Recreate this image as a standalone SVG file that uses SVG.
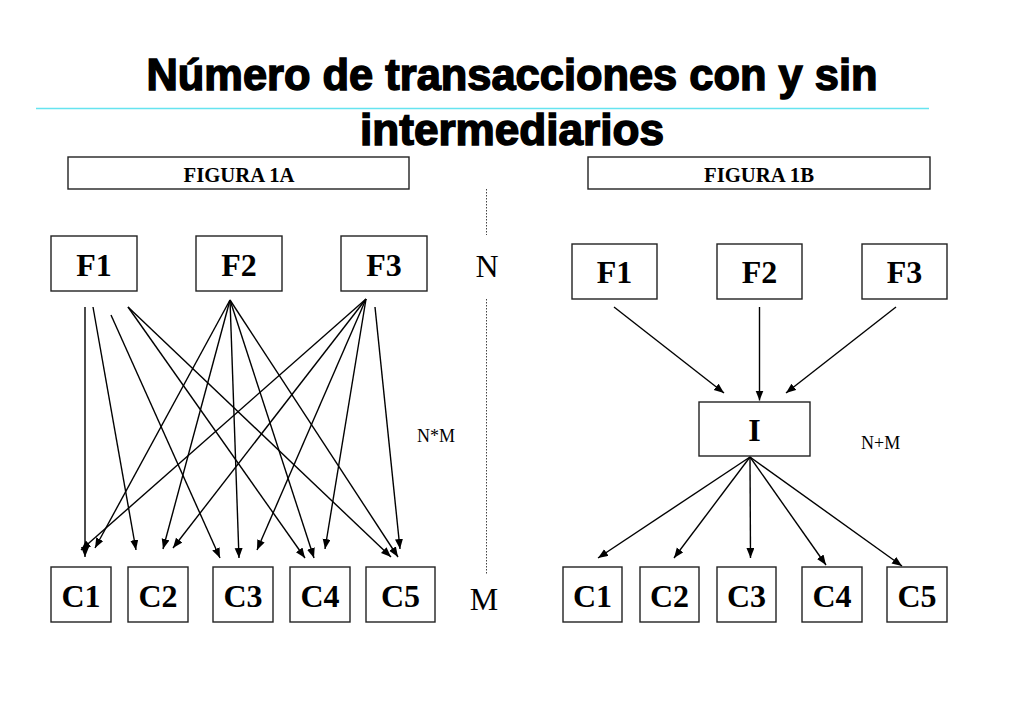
<svg xmlns="http://www.w3.org/2000/svg" width="1024" height="709" viewBox="0 0 1024 709">
<defs>
<marker id="ah" markerUnits="userSpaceOnUse" markerWidth="11" markerHeight="9" refX="10" refY="4" orient="auto">
<path d="M0,0 L10,4 L0,8 z" fill="#000"/>
</marker>
<style>
.box{fill:#fff;stroke:#222;stroke-width:1.4}
.lbl{font-family:"Liberation Serif","Times New Roman",serif;font-weight:bold;font-size:32px;text-anchor:middle;fill:#000}
.fig{font-family:"Liberation Serif","Times New Roman",serif;font-weight:bold;font-size:21px;text-anchor:middle;fill:#000}
.sm{font-family:"Liberation Serif","Times New Roman",serif;font-size:18px;fill:#000}
.big{font-family:"Liberation Serif","Times New Roman",serif;font-size:32px;text-anchor:middle;fill:#000}
.title{font-family:"Liberation Sans",Arial,sans-serif;font-weight:bold;font-size:44px;text-anchor:middle;fill:#000;stroke:#000;stroke-width:1.5}
#connectors line{stroke:#000;stroke-width:1.4;marker-end:url(#ah)}
.dot{stroke:#444;stroke-width:1;stroke-dasharray:1.5 1.5}
</style>
</defs>
<rect width="1024" height="709" fill="#fff"/>
<g id="title">
<text class="title" x="512" y="90" textLength="731" lengthAdjust="spacingAndGlyphs">Número de transacciones con y sin</text>
<text class="title" x="512" y="145" textLength="304" lengthAdjust="spacingAndGlyphs">intermediarios</text>
<line x1="36" y1="108.5" x2="929" y2="108.5" stroke="#66e4f0" stroke-width="1.6"/>
</g>
<g id="figura1a"><rect class="box" x="68" y="157" width="341" height="32"/><text class="fig" x="239" y="182" textLength="111" lengthAdjust="spacingAndGlyphs">FIGURA 1A</text></g>
<g id="figura1b"><rect class="box" x="588" y="157" width="342" height="32"/><text class="fig" x="759" y="182" textLength="110" lengthAdjust="spacingAndGlyphs">FIGURA 1B</text></g>
<g id="divider">
<line class="dot" x1="486.5" y1="189" x2="486.5" y2="235"/>
<line class="dot" x1="486.5" y1="299" x2="486.5" y2="575"/>
<text class="big" x="487" y="277">N</text>
<text class="big" x="484" y="610">M</text>
<text class="sm" x="417" y="442">N*M</text>
<text class="sm" x="861" y="449">N+M</text>
</g>
<g id="a-F1"><rect class="box" x="51" y="236" width="86" height="55"/><text class="lbl" x="94" y="276">F1</text></g>
<g id="a-F2"><rect class="box" x="196" y="236" width="86" height="55"/><text class="lbl" x="239" y="276">F2</text></g>
<g id="a-F3"><rect class="box" x="341" y="236" width="86" height="55"/><text class="lbl" x="384" y="276">F3</text></g>
<g id="a-C1"><rect class="box" x="51" y="567" width="60" height="55"/><text class="lbl" x="81" y="607">C1</text></g>
<g id="a-C2"><rect class="box" x="128" y="567" width="60" height="55"/><text class="lbl" x="158" y="607">C2</text></g>
<g id="a-C3"><rect class="box" x="213" y="567" width="60" height="55"/><text class="lbl" x="243" y="607">C3</text></g>
<g id="a-C4"><rect class="box" x="290" y="567" width="60" height="55"/><text class="lbl" x="320" y="607">C4</text></g>
<g id="a-C5"><rect class="box" x="366" y="567" width="69" height="55"/><text class="lbl" x="400.5" y="607">C5</text></g>
<g id="b-F1"><rect class="box" x="572" y="244" width="85" height="55"/><text class="lbl" x="614.5" y="283">F1</text></g>
<g id="b-F2"><rect class="box" x="717" y="244" width="85" height="55"/><text class="lbl" x="759.5" y="283">F2</text></g>
<g id="b-F3"><rect class="box" x="862" y="244" width="85" height="55"/><text class="lbl" x="904.5" y="283">F3</text></g>
<g id="b-I"><rect class="box" x="699" y="402" width="111" height="54"/><text class="lbl" x="754.5" y="441">I</text></g>
<g id="b-C1"><rect class="box" x="563" y="567" width="59" height="55"/><text class="lbl" x="592.5" y="607">C1</text></g>
<g id="b-C2"><rect class="box" x="640" y="567" width="59" height="55"/><text class="lbl" x="669.5" y="607">C2</text></g>
<g id="b-C3"><rect class="box" x="717" y="567" width="59" height="55"/><text class="lbl" x="746.5" y="607">C3</text></g>
<g id="b-C4"><rect class="box" x="802" y="567" width="60" height="55"/><text class="lbl" x="832" y="607">C4</text></g>
<g id="b-C5"><rect class="box" x="887" y="567" width="60" height="55"/><text class="lbl" x="917" y="607">C5</text></g>
<g id="connectors">
<line x1="85" y1="307" x2="85" y2="557"/>
<line x1="93" y1="307" x2="136" y2="550"/>
<line x1="111" y1="315" x2="220" y2="558"/>
<line x1="128" y1="307" x2="305" y2="558"/>
<line x1="128" y1="307" x2="391" y2="557"/>
<line x1="230" y1="300" x2="95" y2="548"/>
<line x1="230" y1="300" x2="163" y2="549"/>
<line x1="230" y1="300" x2="239" y2="558"/>
<line x1="230" y1="300" x2="314" y2="558"/>
<line x1="230" y1="300" x2="398" y2="557"/>
<line x1="366" y1="299" x2="81" y2="550"/>
<line x1="366" y1="299" x2="173" y2="548"/>
<line x1="366" y1="299" x2="257" y2="550"/>
<line x1="366" y1="299" x2="325" y2="549"/>
<line x1="375" y1="307" x2="400" y2="549"/>
<line x1="614" y1="307" x2="724" y2="393"/>
<line x1="759.5" y1="307" x2="759.5" y2="400.5"/>
<line x1="896" y1="307" x2="786" y2="393"/>
<line x1="750" y1="457" x2="598" y2="558"/>
<line x1="750" y1="457" x2="674" y2="558"/>
<line x1="750" y1="457" x2="750.5" y2="558"/>
<line x1="750" y1="457" x2="826" y2="565"/>
<line x1="750" y1="457" x2="902" y2="566"/>
</g>
</svg>
